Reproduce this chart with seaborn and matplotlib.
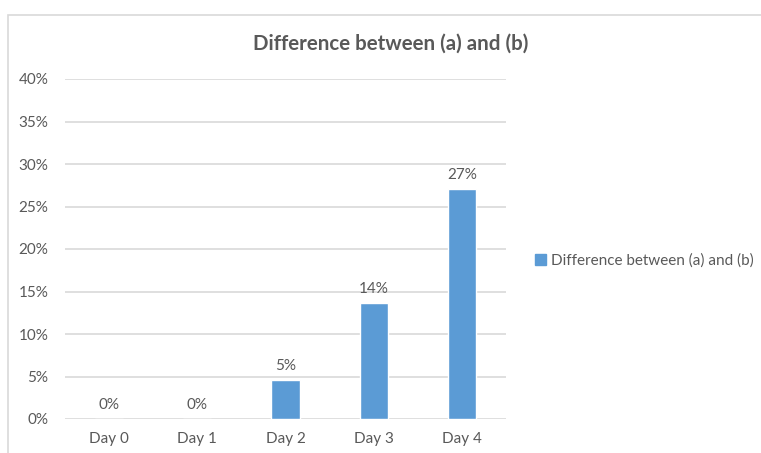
import matplotlib
matplotlib.use("Agg")
import matplotlib.pyplot as plt
import matplotlib.patches as mpatches
import seaborn as sns
import pandas as pd

days = ["Day 0", "Day 1", "Day 2", "Day 3", "Day 4"]
values = [0.0, 0.0, 4.6, 13.6, 27.1]
series_name = "Difference between (a) and (b)"
title = "Difference between (a) and (b)"
yticks = [0, 5, 10, 15, 20, 25, 30, 35, 40]

sns.set_theme(style="white")
plt.rcParams['font.family'] = ['Lato', 'DejaVu Sans']

BAR = "#5B9BD5"
TXT = "#595959"
GRID = "#D9D9D9"
FS = 11

W, H = 761, 453
fig = plt.figure(figsize=(W / 100, H / 100), dpi=100)
ax = fig.add_axes([65 / W, 1 - 419 / H, (506 - 65) / W, (419 - 79) / H])

df = pd.DataFrame({"day": days, "value": values})
sns.barplot(data=df, x="day", y="value", color=BAR, width=0.32, ax=ax,
            saturation=1)

ax.set_ylim(0, 40)
ax.set_yticks(yticks)
ax.set_yticklabels([f"{t}%" for t in yticks])
ax.set_xlim(-0.5, len(days) - 0.5)
ax.set_xlabel("")
ax.set_ylabel("")
for s in ax.spines.values():
    s.set_visible(False)
ax.yaxis.grid(True, color=GRID, linewidth=1.2)
ax.set_axisbelow(True)
ax.tick_params(axis="y", length=0, pad=12, labelsize=FS, labelcolor=TXT)
ax.tick_params(axis="x", length=0, pad=9, labelsize=FS, labelcolor=TXT)

ax.bar_label(ax.containers[0], labels=[f"{v:.0f}%" for v in values],
             padding=5, fontsize=FS, color=TXT)

fig.text(391 / W, 1 - 44 / H, title, ha="center", va="center",
         fontsize=14.8, fontweight="bold", color=TXT)

handle = mpatches.Patch(color=BAR, label=series_name)
fig.legend(handles=[handle], loc="center left",
           bbox_to_anchor=(535 / W, 1 - 261 / H), frameon=False,
           fontsize=FS, labelcolor=TXT, handlelength=0.75, handleheight=0.75,
           handletextpad=0.3, borderaxespad=0, borderpad=0)

border = mpatches.Rectangle((8 / W, -0.1), 1.2, 1 - 15 / H + 0.1,
                            transform=fig.transFigure, fill=False,
                            edgecolor=GRID, linewidth=1.2)
fig.add_artist(border)

fig.savefig("out.png", dpi=100)
